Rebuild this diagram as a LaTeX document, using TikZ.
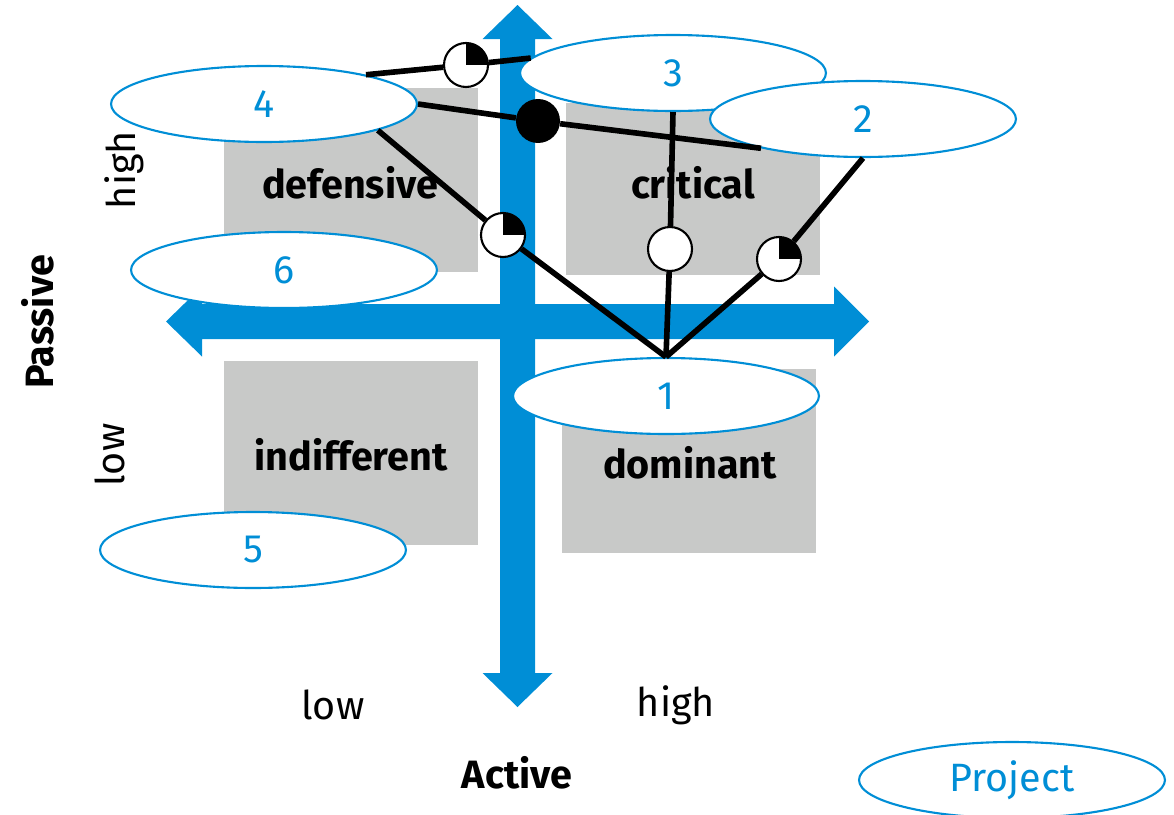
\documentclass[tikz,border=0pt]{standalone}
\usepackage{fontspec}
\setmainfont{Fira Sans}
\usetikzlibrary{shapes.geometric}

\definecolor{axisblue}{RGB}{0,142,214}
\definecolor{boxgray}{RGB}{200,201,200}

\begin{document}
\begin{tikzpicture}
          [x=0.02cm, y=-0.02cm,
           every node/.style = {font = \fontsize{22.5}{26}\selectfont},
           qlabel/.style = {font = \fontsize{22.5}{26}\selectfont\bfseries},
           quadrant/.style = {fill = boxgray},
           holder/.style = {ellipse, draw = axisblue, line width = 1.2pt, fill = white,
                            minimum width = 6.12cm, minimum height = 1.52cm,
                            inner sep = 0pt, text = axisblue},
           link/.style = {line width = 3.2pt},
           pie/.style = {circle, draw, line width = 1.2pt, fill = white,
                         minimum size = 0.88cm, inner sep = 0pt},
           quarter/.style = {pie, path picture = {\fill[black] (path picture bounding box.center)
                              rectangle (path picture bounding box.north east);}},
           blackdot/.style = {circle, fill = black, minimum size = 0.88cm, inner sep = 0pt}]

\useasboundingbox (0,0) rectangle (1174,815);

% quadrants
\fill[quadrant] (224,88)  rectangle (478,272);
\fill[quadrant] (566,103) rectangle (820,275);
\fill[quadrant] (224,361) rectangle (478,545);
\fill[quadrant] (562,369) rectangle (816,553);

\node[qlabel] (defensive)   at (350,183) {defensive};
\node[qlabel] (critical)    at (693,183) {critical};
\node[qlabel] (indifferent) at (351,455) {indifferent};
\node[qlabel] (dominant)    at (690,463) {dominant};

% axes
\fill[axisblue] (517.5,5) -- (552.5,39) -- (535,39) -- (535,673) -- (552.5,673) -- (517.5,707)
             -- (482.5,673) -- (500,673) -- (500,39) -- (482.5,39) -- cycle;
\fill[axisblue] (166,321.5) -- (202,286.5) -- (202,304) -- (834,304) -- (834,286.5) -- (869,321.5)
             -- (834,356.5) -- (834,339) -- (202,339) -- (202,356.5) -- cycle;

\node[rotate=90]         (passhigh) at (124,170) {high};
\node[rotate=90]         (passlow)  at (110,455) {low};
\node[rotate=90, qlabel] (passive)  at (38,322)  {Passive};
\node                    (actlow)   at (333,705) {low};
\node                    (acthigh)  at (676,705) {high};
\node[qlabel]            (active)   at (517,773) {Active};

% stakeholders
\node[holder] (s4) at (264,104) {4};
\node[holder] (s3) at (673,73)  {3};
\node[holder] (s2) at (863,119) {2};
\node[holder] (s6) at (284,270) {6};
\node[holder] (s1) at (666,396) {1};
\node[holder] (s5) at (253,550) {5};
\node[holder] (project) at (1012,780) {Project};

% relations
\node[quarter]  (p43) at (466,65)  {};
\node[blackdot] (d42) at (538,121) {};
\node[quarter]  (p41) at (503,235) {};
\node[pie]      (p31) at (670,249) {};
\node[quarter]  (p21) at (779,259) {};

\draw[link] (s4.16)    -- (p43) -- (s3.174);
\draw[link] (s4.east)  -- (d42) -- (s2.196);
\draw[link] (s4.-13)   -- (p41) -- (s1.north);
\draw[link] (s3.south) -- (p31) -- (s1.north);
\draw[link] (s2.south) -- (p21) -- (s1.north);

\end{tikzpicture}
\end{document}
